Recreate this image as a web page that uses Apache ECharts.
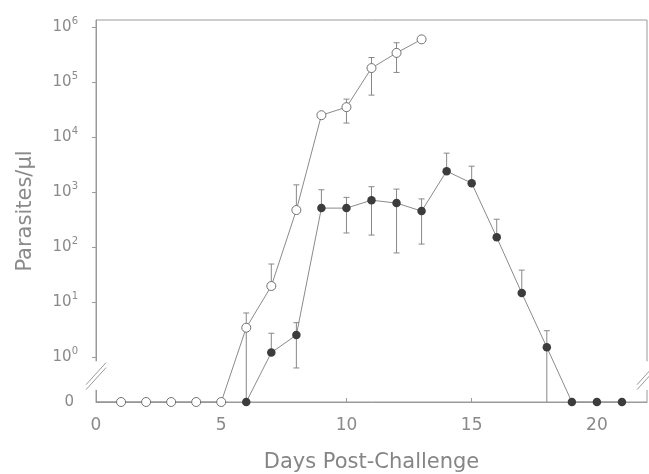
<!DOCTYPE html>
<html>
<head>
<meta charset="utf-8">
<script src="https://cdn.jsdelivr.net/npm/echarts@6/dist/echarts.min.js"></script>
<style>
html, body { margin: 0; padding: 0; background: #fff; }
#chart { width: 649px; height: 474px; }
</style>
</head>
<body>
<div id="chart"></div>
<script>
// open circles
var openDays = [0, 1, 2, 3, 4, 5, 6, 7, 8, 9, 10, 11, 12, 13];
var openMean = [0, 0, 0, 0, 0, 0, 3.4, 19.5, 470, 25000, 35000, 180000, 340000, 600000];
// [day, low, high]
var openErr = [[6, 0, 6.3], [7, 19.5, 49], [8, 470, 1350], [10, 18000, 49000], [11, 58000, 280000], [12, 150000, 520000]];

// filled circles
var filledDays = [6, 7, 8, 9, 10, 11, 12, 13, 14, 15, 16, 17, 18, 19, 20, 21];
var filledMean = [0, 1.2, 2.5, 510, 510, 710, 630, 450, 2400, 1450, 150, 14.5, 1.5, 0, 0, 0];
var filledErr = [[7, 1.2, 2.7], [8, 0.63, 4.2], [9, 510, 1100], [10, 180, 800], [11, 165, 1250], [12, 78, 1130],
    [13, 113, 750], [14, 2400, 5100], [15, 1450, 2950], [16, 150, 320], [17, 14.5, 38], [18, 0, 3]];

var xTicks = [0, 5, 10, 15, 20];
var yExponents = [0, 1, 2, 3, 4, 5, 6];

var ZERO = -0.82;   // where "0" sits below the break
var BREAK = -0.35;  // centre of the axis break
var TOP = 6.13;

var toY = function (v) {
    return v > 0 ? Math.log10(v) : ZERO;
};

var lineData = function (days, values) {
    return days.map(function (d, i) {
        var item = { value: [d, toY(values[i])] };
        if (d === 0) item.symbol = 'none';
        return item;
    });
};

var errData = function (rows, days, means) {
    return rows.map(function (r) {
        var mean = means[days.indexOf(r[0])];
        return [r[0], toY(r[1]), toY(r[2]), toY(mean)];
    });
};

var renderErr = function (params, api) {
    var x = api.value(0);
    var lo = api.coord([x, api.value(1)]);
    var hi = api.coord([x, api.value(2)]);
    var mid = api.coord([x, api.value(3)]);
    var style = { stroke: '#888', lineWidth: 1 };
    var kids = [{ type: 'line', shape: { x1: lo[0], y1: lo[1], x2: hi[0], y2: hi[1] }, style: style }];
    if (hi[1] < mid[1] - 1) {
        kids.push({ type: 'line', shape: { x1: hi[0] - 3, y1: hi[1], x2: hi[0] + 3, y2: hi[1] }, style: style });
    }
    if (lo[1] > mid[1] + 1 && api.value(1) > ZERO) {
        kids.push({ type: 'line', shape: { x1: lo[0] - 3, y1: lo[1], x2: lo[0] + 3, y2: lo[1] }, style: style });
    }
    return { type: 'group', children: kids };
};

var chart = echarts.init(document.getElementById('chart'));
var option = {
    animation: false,
    grid: {
        left: 96, right: 2, top: 20, bottom: 72, show: true,
        borderColor: '#9a9a9a', borderWidth: 1,
        containLabel: false, outerBoundsMode: 'none'
    },
    xAxis: {
        type: 'value', min: 0, max: 22,
        name: 'Days Post-Challenge', nameLocation: 'middle', nameGap: 50,
        nameTextStyle: { fontFamily: 'DejaVu Sans', fontSize: 21, color: '#858585' },
        axisLine: { show: true, onZero: false, lineStyle: { color: '#9a9a9a' } },
        axisTick: { show: true, inside: true, length: 4, customValues: xTicks, lineStyle: { color: '#9a9a9a' } },
        axisLabel: { customValues: xTicks, fontFamily: 'DejaVu Sans', fontSize: 17, color: '#8a8a8a', margin: 15 },
        splitLine: { show: false }
    },
    yAxis: {
        type: 'value', min: ZERO, max: TOP,
        name: 'Parasites/µl', nameLocation: 'middle', nameGap: 60,
        nameTextStyle: { fontFamily: 'DejaVu Sans', fontSize: 21, color: '#8a8a8a' },
        axisLine: { show: true, onZero: false, lineStyle: { color: '#9a9a9a' } },
        axisTick: { show: true, length: 4, customValues: yExponents, lineStyle: { color: '#9a9a9a' } },
        axisLabel: {
            customValues: [ZERO].concat(yExponents),
            margin: 18,
            formatter: function (v) {
                if (Math.abs(v - ZERO) < 1e-6) return '{b|0}{p|}';
                return '{b|10}{s|' + Math.round(v) + '}';
            },
            rich: {
                b: { fontFamily: 'DejaVu Sans', fontSize: 15, color: '#8a8a8a', lineHeight: 22, verticalAlign: 'middle' },
                s: { fontFamily: 'DejaVu Sans', fontSize: 10, color: '#8a8a8a', lineHeight: 11, verticalAlign: 'top' },
                p: { width: 4 }
            }
        },
        splitLine: { show: false }
    },
    series: [
        {
            type: 'custom', renderItem: renderErr, z: 1,
            data: errData(openErr, openDays, openMean)
        },
        {
            type: 'custom', renderItem: renderErr, z: 1,
            data: errData(filledErr, filledDays, filledMean)
        },
        {
            type: 'line', z: 3, data: lineData(openDays, openMean),
            symbol: 'circle', symbolSize: 9,
            itemStyle: { color: '#fff', borderColor: '#707070', borderWidth: 1 },
            lineStyle: { color: '#8a8a8a', width: 1 }
        },
        {
            type: 'line', z: 3, data: lineData(filledDays, filledMean),
            symbol: 'circle', symbolSize: 8.5,
            itemStyle: { color: '#3c3c3c', borderColor: '#3c3c3c', borderWidth: 0 },
            lineStyle: { color: '#8a8a8a', width: 1 }
        }
    ]
};
chart.setOption(option);

// axis break marks on the left and right edges
var breakMarks = function () {
    var els = [];
    [0, 22].forEach(function (xv) {
        var c = chart.convertToPixel({ gridIndex: 0 }, [xv, BREAK]);
        var g1 = chart.convertToPixel({ gridIndex: 0 }, [xv, -0.08]);
        var g2 = chart.convertToPixel({ gridIndex: 0 }, [xv, -0.6]);
        els.push({
            type: 'rect', z: 10,
            shape: { x: c[0] - 3, y: g1[1], width: 6, height: g2[1] - g1[1] },
            style: { fill: '#fff' }
        });
        [-2.5, 2.5].forEach(function (off) {
            els.push({
                type: 'line', z: 11,
                shape: { x1: c[0] - 10, y1: c[1] + 11 + off, x2: c[0] + 10, y2: c[1] - 11 + off },
                style: { stroke: '#9a9a9a', lineWidth: 1 }
            });
        });
    });
    return els;
};
chart.setOption({ graphic: breakMarks() });
</script>
</body>
</html>
